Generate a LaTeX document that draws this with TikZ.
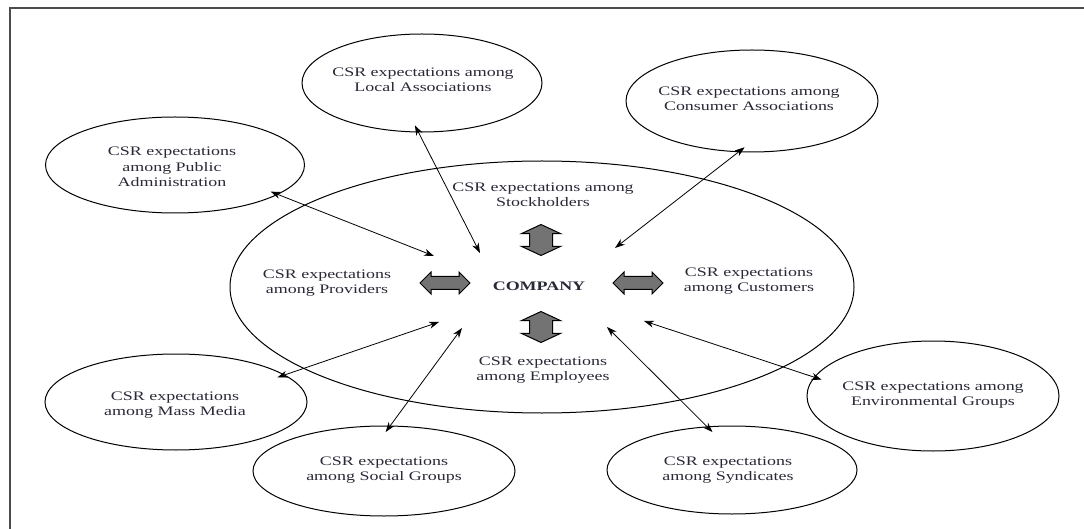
\documentclass[tikz,border=0pt]{standalone}
\usepackage{fontspec}
\setmainfont{Liberation Serif}[FakeStretch=1.38]
\usetikzlibrary{shapes.geometric,shapes.arrows,arrows.meta}
\definecolor{csrtext}{RGB}{40,40,55}
\begin{document}
\begin{tikzpicture}[x=1pt,y=-1pt]
\tikzset{group/.style={ellipse,draw,line width=1pt,inner sep=0pt},
  csr/.style={align=center,text=csrtext,font=\fontsize{13}{15.5}\selectfont},
  link/.style={{Stealth[length=10pt,width=7pt]}-{Stealth[length=10pt,width=7pt]},line width=0.8pt,shorten <=-8pt},
  flow/.style={double arrow,draw,fill=black!55,line width=1pt,inner xsep=0pt}}
\useasboundingbox (0,0) rectangle (1084,529);
% Draw the frame
\draw[line width=2pt,black!70] (9.5,540) -- (9.5,8.5) -- (1095,8.5);

% the company
\node[group,minimum width=624pt,minimum height=252pt] (firm) at (542,287) {};
\node[csr,font=\fontsize{13}{15.5}\selectfont\bfseries] (company) at (539,286) {COMPANY};
\node[csr] (stock) at (543,195) {CSR expectations among\\Stockholders};
\node[csr] (prov) at (327,283) {CSR expectations\\among Providers};
\node[csr] (cust) at (749,281) {CSR expectations\\among Customers};
\node[csr] (empl) at (543,370) {CSR expectations\\among Employees};

% the block arrows
\node[flow,inner ysep=6pt,minimum height=50pt,double arrow head extend=4.5pt] (fprov) at (445,283) {};
\node[flow,inner ysep=6pt,minimum height=50pt,double arrow head extend=4.5pt] (fcust) at (638,283) {};
\node[flow,rotate=90,inner ysep=11pt,minimum height=31pt,double arrow head extend=8pt,double arrow tip angle=130] (fstock) at (541,240) {};
\node[flow,rotate=90,inner ysep=11pt,minimum height=31pt,double arrow head extend=8pt,double arrow tip angle=130] (fempl) at (541,327) {};

% the outer groups
\node[group,minimum width=240pt,minimum height=98pt] (local) at (422,83) {};
\node[csr] (tlocal) at (423,80) {CSR expectations among\\Local Associations};
\node[group,minimum width=252pt,minimum height=102pt] (cons) at (752,101) {};
\node[csr] (tcons) at (749,99) {CSR expectations among\\Consumer Associations};
\node[group,minimum width=259pt,minimum height=96pt] (pub) at (175,165) {};
\node[csr] (tpub) at (172,167) {CSR expectations\\among Public\\Administration};
\node[group,minimum width=262pt,minimum height=96pt] (mass) at (176,402) {};
\node[csr] (tmass) at (175,405) {CSR expectations\\among Mass Media};
\node[group,minimum width=262pt,minimum height=90pt] (social) at (384,471) {};
\node[csr] (tsocial) at (384,470) {CSR expectations\\among Social Groups};
\node[group,minimum width=250pt,minimum height=88pt] (synd) at (732,470) {};
\node[csr] (tsynd) at (728,470) {CSR expectations\\among Syndicates};
\node[group,minimum width=252pt,minimum height=110pt] (env) at (933,396) {};
\node[csr] (tenv) at (933,395) {CSR expectations among\\Environmental Groups};

% the links
\coordinate (ipub) at (434,256);
\coordinate (ilocal) at (480,253);
\coordinate (icons) at (615,248);
\coordinate (imass) at (439,322);
\coordinate (isocial) at (462,328);
\coordinate (isynd) at (607,327);
\coordinate (ienv) at (644,321);
\draw[link] (pub.-16) -- (ipub);
\draw[link] (local.266) -- (ilocal);
\draw[link] (cons.255) -- (icons);
\draw[link] (mass.14) -- (imass);
\draw[link] (social.82) -- (isocial);
\draw[link] (synd.120) -- (isynd);
\draw[link] (env.171) -- (ienv);
\end{tikzpicture}
\end{document}
